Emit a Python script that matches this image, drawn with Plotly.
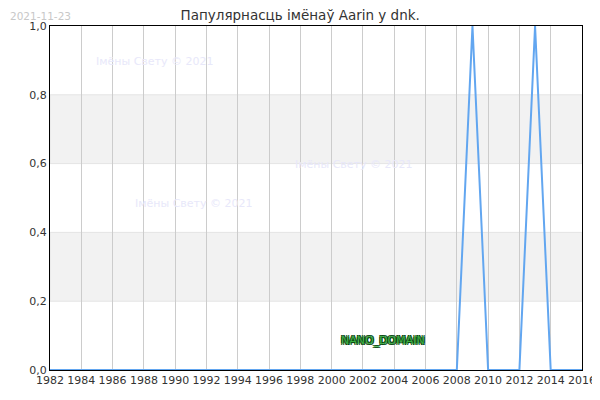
import plotly.graph_objects as go

# -----------------------------------------------------
# Data
# -----------------------------------------------------

years = list(range(1982, 2017))
popularity = [0] * len(years)
popularity[years.index(2009)] = 1
popularity[years.index(2013)] = 1

x_ticks = list(range(1982, 2017, 2))
y_ticks = [0, 0.2, 0.4, 0.6, 0.8, 1.0]
bands = [(0.2, 0.4), (0.6, 0.8)]

title = "Папулярнасць імёнаў Aarin у dnk."
stamp = "2021-11-23"
watermark = "Імёны Свету © 2021"
watermark_pos = [(1988.7, 0.897), (2001.4, 0.598), (1991.2, 0.483)]

# -----------------------------------------------------
# Figure
# -----------------------------------------------------

fig = go.Figure()

for y0, y1 in bands:
    fig.add_shape(
        type="rect", xref="paper", yref="y",
        x0=0, x1=1, y0=y0, y1=y1,
        fillcolor="#f2f2f2", line=dict(color="#e4e4e4", width=1),
        layer="below",
    )

fig.add_trace(go.Scatter(
    x=years, y=popularity, mode="lines",
    line=dict(color="#62a6f0", width=2),
    hoverinfo="x+y", showlegend=False,
))

for wx, wy in watermark_pos:
    fig.add_annotation(
        x=wx, y=wy, text=watermark, showarrow=False,
        font=dict(family="DejaVu Sans", size=11, color="#e8e8fa"),
    )

fig.add_annotation(
    x=2003.3, y=0.086, text="NANO_DOMAIN", showarrow=False,
    font=dict(family="DejaVu Sans", size=11, color="#3cb043",
              shadow="-1px -1px 0 #0b4a12, 1px -1px 0 #0b4a12, "
                     "-1px 1px 0 #0b4a12, 1px 1px 0 #0b4a12"),
)

fig.add_annotation(
    xref="paper", yref="paper", x=-0.0785, y=1.052,
    xanchor="left", yanchor="top", text=stamp, showarrow=False,
    font=dict(family="DejaVu Sans", size=10.5, color="#c8c8c8"),
)

fig.update_layout(
    width=600, height=400,
    margin=dict(l=42, r=23, t=14, b=38),
    paper_bgcolor="white", plot_bgcolor="white",
    separators=", ",
    title=dict(text=title, x=0.487, xanchor="center", y=0.993, yanchor="top",
               font=dict(family="DejaVu Sans", size=13.5, color="#333333")),
    font=dict(family="DejaVu Sans", size=11, color="#333333"),
)

fig.update_xaxes(
    range=[1982, 2016], tickvals=x_ticks,
    showgrid=True, gridcolor="#cccccc", gridwidth=1,
    showline=True, linecolor="black", linewidth=1, mirror=True,
    ticks="", zeroline=False,
)

fig.update_yaxes(
    range=[0, 1], tickvals=y_ticks, tickformat=".1f",
    showgrid=False,
    showline=True, linecolor="black", linewidth=1, mirror=True,
    ticks="", zeroline=False,
)

fig.write_html("out.html")
